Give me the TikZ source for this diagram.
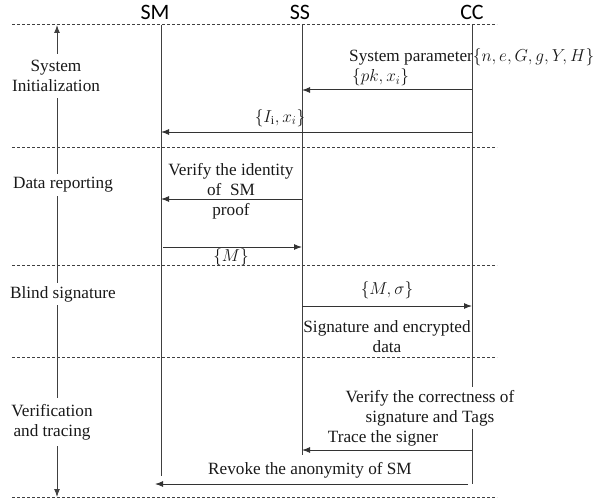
\documentclass[tikz,border=0pt]{standalone}
\usepackage{fontspec}
\setmainfont{Liberation Serif}
\newfontfamily\hdrfont{Carlito}
\usetikzlibrary{arrows.meta}
\begin{document}
\begin{tikzpicture}[x=1pt,y=-1pt,
  txt/.style={font=\fontsize{17.2}{20}\selectfont, inner sep=1pt, align=center, text=black!90},
  phase/.style={txt, fill=white, inner xsep=1pt, inner ysep=3pt},
  hdr/.style={font=\hdrfont\fontsize{22}{24}\selectfont, inner sep=0pt},
  sep/.style={draw=black!75, dash pattern=on 3pt off 2pt, line width=0.8pt},
  life/.style={draw=black!75, line width=1pt},
  msg/.style={draw=black!80, line width=1pt, -{Latex[length=8pt,width=6pt]}},
  ]
\useasboundingbox (0,0) rectangle (595,503);
% headers
\node[hdr] (hSM) at (155,12) {SM};
\node[hdr] (hSS) at (300,12) {SS};
\node[hdr] (hCC) at (472,12) {CC};
% separators
\foreach \y/\n in {24/a,147/b,265/c,357/d,497/e}{
  \coordinate (dL\n) at (12,\y);
  \coordinate (dR\n) at (497,\y);
  \draw[sep] (dL\n) -- (dR\n);
}
% lifelines
\coordinate (smT) at (161,25); \coordinate (smB) at (161,476);
\coordinate (ssT) at (302,25); \coordinate (ssB) at (302,455);
\coordinate (ccT) at (472,25); \coordinate (ccB) at (472,484);
\draw[life] (smT) -- (smB);
\draw[life] (ssT) -- (ssB);
\draw[life] (ccT) -- (ccB);
% phase arrow
\coordinate (phT) at (57,25); \coordinate (phB) at (57,497);
\draw[life, {Latex[length=8pt,width=6pt]}-{Latex[length=8pt,width=6pt]}] (phT) -- (phB);
\node[phase, inner ysep=6pt] (p1) at (56,76) {System\\Initialization};
\node[phase] (p2) at (63,185) {Data reporting};
\node[phase] (p3) at (63,294) {Blind signature};
\node[phase, inner ysep=6pt] (p4) at (52,422) {Verification\\and tracing};
% messages
\coordinate (m1a) at (472,90); \coordinate (m1b) at (302,90);
\draw[msg] (m1a) -- (m1b);
\node[txt, anchor=west, inner sep=0pt] (l1a) at (349,57) {System parameter$\{n,e,G,g,Y,H\}$};
\node[txt, anchor=west, inner sep=0pt] (l1b) at (352,77.5) {$\{pk, x_i\}$};

\coordinate (m2a) at (472,132); \coordinate (m2b) at (161,132);
\draw[msg] (m2a) -- (m2b);
\node[txt] (l2) at (280,118) {$\{I_{\mathrm{i}}, x_i\}$};

\coordinate (m3a) at (302,199); \coordinate (m3b) at (161,199);
\draw[msg] (m3a) -- (m3b);
\node[txt] (l3a) at (231,180) {Verify the identity\\of\ \ SM};
\node[txt] (l3b) at (231,211) {proof};

\coordinate (m4a) at (163,247); \coordinate (m4b) at (302,247);
\draw[msg] (m4a) -- (m4b);
\node[txt] (l4) at (231,257) {$\{M\}$};

\coordinate (m5a) at (302,306); \coordinate (m5b) at (472,306);
\draw[msg] (m5a) -- (m5b);
\node[txt] (l5a) at (387,290) {$\{M, \sigma\}$};
\node[txt] (l5b) at (387,337) {Signature and encrypted\\data};

\node[txt, fill=white, inner ysep=3pt] (l6) at (430,408) {Verify the correctness of\\signature and Tags};

\coordinate (m7a) at (472,450); \coordinate (m7b) at (302,450);
\draw[msg] (m7a) -- (m7b);
\node[txt] (l7) at (383,438) {Trace the signer};

\coordinate (m8a) at (468,484); \coordinate (m8b) at (155,484);
\draw[msg] (m8a) -- (m8b);
\node[txt] (l8) at (310,470) {Revoke the anonymity of SM};
\end{tikzpicture}
\end{document}
